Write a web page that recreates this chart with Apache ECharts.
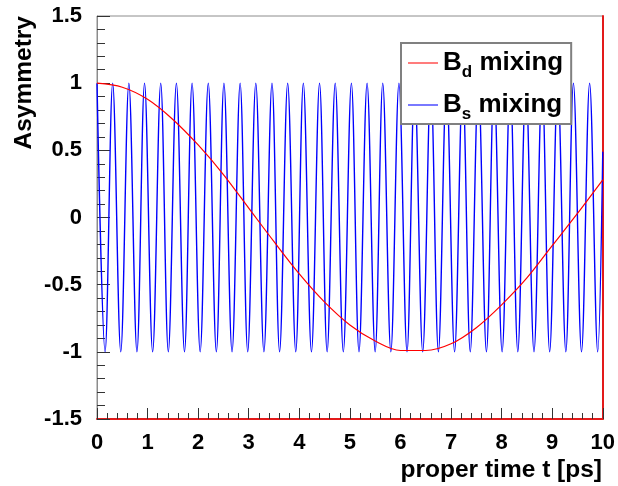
<!DOCTYPE html>
<html>
<head>
<meta charset="utf-8">
<script src="https://cdn.jsdelivr.net/npm/echarts@6/dist/echarts.min.js"></script>
<style>
  html, body { margin: 0; padding: 0; background: #ffffff; }
  #chart { width: 618px; height: 486px; }
</style>
</head>
<body>
<div id="chart"></div>
<script>
// Bd mixing asymmetry, sampled every 0.5 ps
const timeBd = [0, 0.5, 1, 1.5, 2, 2.5, 3, 3.5, 4, 4.5, 5, 5.5, 6, 6.5, 7, 7.5, 8, 8.5, 9, 9.5, 10];
const asymBd = [1.00, 0.97, 0.88, 0.73, 0.54, 0.32, 0.07, -0.18, -0.42, -0.63, -0.80, -0.92, -0.99, -0.99, -0.94, -0.82, -0.65, -0.45, -0.21, 0.03, 0.28];

// Bs mixing asymmetry: turning points of the fast oscillation plus the end value
const timeBs = [
  0, 0.16, 0.31, 0.47, 0.63, 0.79, 0.94, 1.10, 1.26, 1.41,
  1.57, 1.73, 1.88, 2.04, 2.20, 2.36, 2.51, 2.67, 2.83, 2.98,
  3.14, 3.30, 3.46, 3.61, 3.77, 3.93, 4.08, 4.24, 4.40, 4.55,
  4.71, 4.87, 5.03, 5.18, 5.34, 5.50, 5.65, 5.81, 5.97, 6.13,
  6.28, 6.44, 6.60, 6.75, 6.91, 7.07, 7.23, 7.38, 7.54, 7.70,
  7.85, 8.01, 8.17, 8.32, 8.48, 8.64, 8.80, 8.95, 9.11, 9.27,
  9.42, 9.58, 9.74, 9.90, 10
];
const asymBs = [
  1, -1, 1, -1, 1, -1, 1, -1, 1, -1,
  1, -1, 1, -1, 1, -1, 1, -1, 1, -1,
  1, -1, 1, -1, 1, -1, 1, -1, 1, -1,
  1, -1, 1, -1, 1, -1, 1, -1, 1, -1,
  1, -1, 1, -1, 1, -1, 1, -1, 1, -1,
  1, -1, 1, -1, 1, -1, 1, -1, 1, -1,
  1, -1, 1, -1, 0.49
];

const seriesNames = ['Bd mixing', 'Bs mixing'];
const seriesSubs = ['d', 's'];
const xTitle = 'proper time t [ps]';
const yTitle = 'Asymmetry';

const FONT = "'Liberation Sans', Arial, Helvetica, sans-serif";

const zip = (xs, ys) => xs.map((x, i) => [x, ys[i]]);

const chart = echarts.init(document.getElementById('chart'), null, { renderer: 'canvas' });

chart.setOption({
  animation: false,
  backgroundColor: '#ffffff',
  grid: {
    left: 97, right: 15, top: 16, bottom: 67,
    show: true, borderColor: '#8c8c8c', borderWidth: 1, backgroundColor: 'transparent'
  },
  xAxis: {
    type: 'value', min: 0, max: 10, interval: 1,
    axisLine: { show: true, onZero: false, lineStyle: { color: '#e31a1a', width: 2 } },
    axisTick: { show: true, inside: true, length: 11, lineStyle: { color: '#333', width: 1 } },
    minorTick: { show: true, splitNumber: 5, length: 6, lineStyle: { color: '#333', width: 1 } },
    splitLine: { show: false },
    axisLabel: { margin: 13, color: '#000', fontFamily: FONT, fontWeight: 'bold', fontSize: 22 }
  },
  yAxis: [{
    type: 'value', min: -1.5, max: 1.5, interval: 0.5,
    axisLine: { show: true, onZero: false, lineStyle: { color: '#8c8c8c', width: 1 } },
    axisTick: { show: true, inside: true, length: 13, lineStyle: { color: '#333', width: 1 } },
    minorTick: { show: true, splitNumber: 5, length: 8, lineStyle: { color: '#333', width: 1 } },
    splitLine: { show: false },
    axisLabel: { margin: 15, color: '#000', fontFamily: FONT, fontWeight: 'bold', fontSize: 22 }
  }, {
    type: 'value', min: -1.5, max: 1.5, interval: 0.5, position: 'right',
    axisLine: { show: true, onZero: false, lineStyle: { color: '#e31a1a', width: 2 } },
    axisTick: { show: false }, axisLabel: { show: false }, splitLine: { show: false }
  }],
  legend: {
    data: seriesNames,
    orient: 'vertical',
    left: 401, top: 43,
    padding: [7, 8, 1, 7],
    itemGap: 11,
    itemWidth: 30, itemHeight: 1.5,
    icon: 'rect',
    backgroundColor: '#ffffff',
    borderColor: '#808080', borderWidth: 2,
    selectedMode: false,
    formatter: name => '{b|B}{s|' + seriesSubs[seriesNames.indexOf(name)] + '}{b| mixing}',
    textStyle: {
      color: '#000', fontFamily: FONT, fontWeight: 'bold',
      rich: {
        b: { fontFamily: FONT, fontWeight: 'bold', fontSize: 26, lineHeight: 26, color: '#000' },
        s: { fontFamily: FONT, fontWeight: 'bold', fontSize: 17, height: 7, lineHeight: 7, verticalAlign: 'bottom', color: '#000' }
      }
    }
  },
  series: [{
    name: seriesNames[1], type: 'line', data: zip(timeBs, asymBs),
    showSymbol: false, symbol: 'none', smooth: 0.36,
    lineStyle: { color: '#0000ff', width: 1.4 }, itemStyle: { color: '#4d4dff' }, z: 2
  }, {
    name: seriesNames[0], type: 'line', data: zip(timeBd, asymBd),
    showSymbol: false, symbol: 'none', smooth: 0.33,
    lineStyle: { color: '#ff0000', width: 1.2 }, itemStyle: { color: '#ff5050' }, z: 3
  }],
  graphic: [{
    type: 'text', x: 24, y: 16, rotation: Math.PI / 2,
    style: { text: yTitle, fill: '#000', font: 'bold 24.5px ' + FONT, align: 'right', verticalAlign: 'middle' }
  }, {
    type: 'text', x: 602, y: 470,
    style: { text: xTitle, fill: '#000', font: 'bold 24.5px ' + FONT, align: 'right', verticalAlign: 'middle' }
  }]
});
</script>
</body>
</html>
